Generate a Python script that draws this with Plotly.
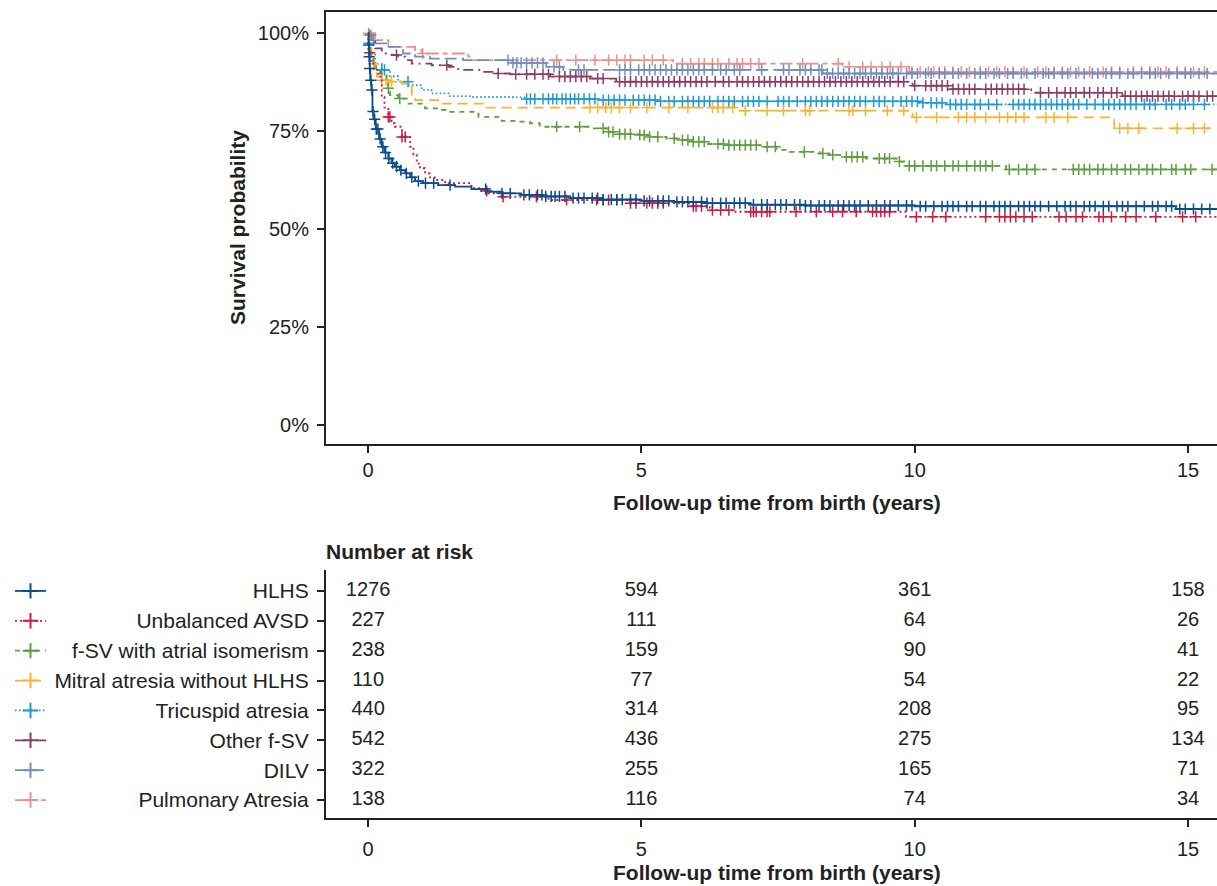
import numpy as np
import plotly.graph_objects as go

W, H = 1217, 886
FONT = "Liberation Sans, Arial, Helvetica, sans-serif"
INK = "#222222"


def px(x):
    return x / W


def py(y):
    return (H - y) / H


groups = ["HLHS", "Unbalanced AVSD", "f-SV with atrial isomerism", "Mitral atresia without HLHS",
          "Tricuspid atresia", "Other f-SV", "DILV", "Pulmonary Atresia"]
colors = ["#0B4C8A", "#D6163F", "#5E9E3D", "#F9B233", "#1B9AD6", "#8C3B63", "#6E8FC0", "#EE908A"]
dashes = ["solid", "2px,3px", "5px,5px", "10px,6px", "1.5px,2.5px", "10px,5px,2px,5px", "12px,5px", "13px,4px,5px,4px"]

# Kaplan-Meier step curves (time in years, survival probability)
hlhs_t = [0, 0.01, 0.02, 0.03, 0.04, 0.06, 0.08, 0.1, 0.14, 0.2, 0.25, 0.3, 0.37, 0.43, 0.49, 0.58, 0.68, 0.77,
          0.86, 1.0, 1.28, 1.59, 1.89, 2.19, 2.44, 2.8, 3.2, 3.7, 4.3, 5.0, 5.6, 6.2, 7.0, 8.0, 10.0, 14.78, 16]
hlhs_s = [1.0, 0.97, 0.94, 0.91, 0.88, 0.855, 0.80, 0.78, 0.755, 0.73, 0.71, 0.695, 0.68, 0.668, 0.659, 0.65,
          0.642, 0.632, 0.622, 0.617, 0.612, 0.608, 0.602, 0.595, 0.591, 0.587, 0.583, 0.579, 0.575, 0.572,
          0.569, 0.566, 0.562, 0.560, 0.558, 0.551, 0.551]
avsd_t = [0, 0.005, 0.05, 0.1, 0.19, 0.25, 0.3, 0.37, 0.43, 0.49, 0.62, 0.77, 0.83, 0.89, 0.95, 1.04, 1.13, 1.22,
          1.41, 1.89, 2.05, 2.2, 2.44, 3.3, 4.8, 5.9, 6.25, 6.67, 9.84, 16]
avsd_s = [1.0, 0.95, 0.93, 0.906, 0.889, 0.837, 0.81, 0.786, 0.77, 0.761, 0.735, 0.71, 0.69, 0.667, 0.655, 0.642,
          0.632, 0.625, 0.617, 0.604, 0.597, 0.591, 0.582, 0.574, 0.566, 0.558, 0.548, 0.544, 0.531, 0.531]
fsv_t = [0, 0.02, 0.05, 0.1, 0.15, 0.22, 0.34, 0.37, 0.4, 0.55, 0.74, 1.04, 1.35, 1.47, 2.02, 2.44, 2.7, 2.96,
         3.14, 4.11, 4.36, 4.6, 4.97, 5.15, 5.46, 5.64, 5.94, 6.19, 6.55, 7.22, 7.47, 7.71, 8.26, 8.44, 8.68,
         9.11, 9.72, 9.81, 11.67, 16]
fsv_s = [1.0, 0.96, 0.94, 0.92, 0.905, 0.897, 0.88, 0.859, 0.842, 0.833, 0.82, 0.808, 0.804, 0.799, 0.786, 0.776,
         0.774, 0.77, 0.761, 0.757, 0.748, 0.742, 0.74, 0.735, 0.731, 0.727, 0.723, 0.717, 0.714, 0.71, 0.702,
         0.697, 0.693, 0.689, 0.684, 0.68, 0.672, 0.661, 0.652, 0.652]
mitral_t = [0, 0.03, 0.06, 0.1, 0.13, 0.16, 0.25, 0.37, 0.62, 0.8, 0.86, 1.28, 2.11, 6.74, 9.96, 13.65, 16]
mitral_s = [1.0, 0.96, 0.94, 0.922, 0.906, 0.889, 0.88, 0.876, 0.871, 0.837, 0.829, 0.82, 0.81, 0.802, 0.785,
            0.757, 0.757]
tric_t = [0, 0.005, 0.04, 0.13, 0.25, 0.4, 0.55, 0.74, 0.98, 1.16, 1.47, 1.9, 2.65, 2.9, 4.18, 5.33, 10.09,
          10.57, 16]
tric_s = [1.0, 0.974, 0.948, 0.922, 0.906, 0.89, 0.876, 0.867, 0.855, 0.846, 0.839, 0.837, 0.836, 0.832, 0.829,
          0.826, 0.822, 0.818, 0.818]
other_t = [0, 0.04, 0.13, 0.25, 0.43, 0.55, 0.68, 0.8, 1.16, 1.47, 1.65, 2.08, 2.33, 2.6, 3.33, 4.06, 4.54,
           9.96, 10.63, 12.13, 13.8, 16]
other_s = [1.0, 0.978, 0.961, 0.948, 0.944, 0.94, 0.931, 0.922, 0.918, 0.914, 0.906, 0.901, 0.897, 0.895, 0.889,
           0.884, 0.876, 0.866, 0.857, 0.848, 0.839, 0.839]
dilv_t = [0, 0.005, 0.07, 0.13, 0.37, 0.64, 0.86, 1.13, 1.74, 2.64, 3.26, 3.57, 8.32, 16]
dilv_s = [1.0, 0.995, 0.982, 0.974, 0.965, 0.948, 0.94, 0.935, 0.931, 0.924, 0.914, 0.906, 0.897, 0.897]
pulm_t = [0, 0.13, 0.37, 0.86, 0.98, 1.83, 1.89, 5.58, 8.68, 9.9, 16]
pulm_s = [1.0, 0.982, 0.965, 0.957, 0.948, 0.94, 0.931, 0.922, 0.914, 0.901, 0.901]

# censoring times (years)
hlhs_c = [0.01, 0.02, 0.03, 0.05, 0.07, 0.09, 0.12, 0.15, 0.18, 0.22, 0.27, 0.32, 0.38, 0.45, 0.52, 0.6, 0.7, 0.8,
          0.92, 1.05, 1.2, 1.5, 2.15, 2.45, 2.6, 2.85, 2.95, 3.1, 3.18, 3.25, 3.35, 3.42, 3.5, 3.6, 3.75, 3.85,
          3.95, 4.1, 4.2, 4.3, 4.45, 4.55, 4.65, 4.8, 4.9, 5.05, 5.15, 5.3, 5.4, 5.5, 5.65, 5.75, 5.85, 5.95, 6.1,
          6.2, 6.3, 6.45, 6.55, 6.7, 6.8, 6.9, 7.05, 7.2, 7.3, 7.45, 7.55, 7.65, 7.8, 7.9, 8.0, 8.1, 8.25, 8.35,
          8.45, 8.6, 8.7, 8.8, 8.9, 9.0, 9.15, 9.3, 9.45, 9.55, 9.7, 9.85, 9.95, 10.1, 10.2, 10.35, 10.5, 10.6,
          10.7, 10.8, 10.95, 11.05, 11.2, 11.3, 11.45, 11.55, 11.65, 11.75, 11.9, 12.0, 12.1, 12.2, 12.3, 12.45,
          12.6, 12.75, 12.85, 12.95, 13.1, 13.2, 13.3, 13.45, 13.55, 13.7, 13.8, 13.9, 14.05, 14.2, 14.35, 14.45,
          14.6, 14.7, 14.85, 14.95, 15.1, 15.25, 15.4]
avsd_c = [0.03, 0.37, 0.4, 0.62, 0.68, 2.17, 2.47, 3.08, 3.63, 4.18, 4.3, 4.4, 4.55, 4.8, 4.9, 5.1, 5.2, 5.3, 5.4,
          5.95, 6.0, 6.1, 6.3, 6.45, 6.6, 7.0, 7.05, 7.1, 7.2, 7.3, 7.35, 7.83, 8.2, 8.5, 8.68, 8.93, 9.23, 9.3,
          9.38, 9.45, 9.54, 10.03, 10.33, 10.57, 11.3, 11.55, 11.65, 11.75, 11.85, 12.0, 12.15, 12.64, 12.77,
          12.95, 13.07, 13.37, 13.45, 13.6, 13.86, 14.05, 14.41, 14.9, 15.14]
fsv_c = [0.37, 0.58, 3.45, 3.87, 4.3, 4.4, 4.48, 4.6, 4.7, 4.8, 4.97, 5.05, 5.15, 5.3, 5.6, 5.75, 5.85, 5.95, 6.05,
         6.15, 6.4, 6.5, 6.6, 6.7, 6.8, 6.9, 7.0, 7.1, 7.3, 7.45, 7.98, 8.32, 8.5, 8.75, 8.85, 8.95, 9.05, 9.35,
         9.45, 9.54, 9.72, 9.9, 10.0, 10.15, 10.3, 10.4, 10.55, 10.7, 10.8, 10.95, 11.1, 11.2, 11.3, 11.42, 11.73,
         11.9, 12.05, 12.2, 12.9, 13.0, 13.1, 13.2, 13.35, 13.45, 13.6, 13.7, 13.85, 13.95, 14.1, 14.25, 14.35,
         14.5, 14.7, 14.78, 14.95, 15.05, 15.44]
mitral_c = [0.1, 0.25, 0.33, 0.43, 4.06, 4.2, 4.35, 4.45, 4.6, 4.8, 5.1, 5.5, 5.85, 6.3, 6.4, 6.5, 6.67, 6.9, 7.3,
            7.6, 8.0, 8.08, 8.8, 8.87, 9.1, 9.5, 9.8, 10.03, 10.4, 10.8, 10.95, 11.1, 11.3, 11.55, 11.7, 11.85,
            12.0, 12.4, 12.55, 12.8, 13.75, 13.9, 14.1, 14.8, 15.1, 15.3]
tric_c = [0.02, 0.25, 0.3, 0.73, 2.9, 2.97, 3.05, 3.2, 3.3, 3.38, 3.45, 3.55, 3.62, 3.7, 3.78, 3.85, 3.95, 4.05,
          4.15, 4.3, 4.4, 4.5, 4.6, 4.7, 4.85, 4.95, 5.05, 5.15, 5.25, 5.35, 5.5, 5.6, 5.75, 5.85, 5.95, 6.05,
          6.15, 6.25, 6.4, 6.5, 6.6, 6.7, 6.85, 6.95, 7.05, 7.15, 7.3, 7.5, 7.6, 7.7, 7.85, 8.0, 8.1, 8.2, 8.3,
          8.4, 8.5, 8.6, 8.7, 8.8, 8.9, 9.0, 9.1, 9.25, 9.35, 9.45, 9.6, 9.75, 9.85, 9.95, 10.05, 10.15, 10.3,
          10.4, 10.5, 10.65, 10.75, 10.85, 10.95, 11.1, 11.2, 11.35, 11.5, 11.8, 11.9, 12.0, 12.1, 12.2, 12.3,
          12.4, 12.5, 12.6, 12.7, 12.8, 12.9, 13.0, 13.15, 13.3, 13.45, 13.55, 13.65, 13.75, 13.85, 13.95, 14.05,
          14.2, 14.3, 14.4, 14.6, 14.7, 14.85, 14.95, 15.1, 15.3]
other_c = [0.52, 1.44, 2.38, 2.7, 2.9, 3.05, 3.2, 3.3, 3.5, 3.6, 3.7, 3.8, 3.9, 4.0, 4.2, 4.3, 4.6, 4.7, 4.8, 4.9,
           5.0, 5.1, 5.2, 5.3, 5.4, 5.5, 5.6, 5.7, 5.8, 5.9, 6.0, 6.1, 6.2, 6.35, 6.5, 6.6, 6.75, 6.85, 6.95, 7.05,
           7.15, 7.25, 7.35, 7.45, 7.55, 7.65, 7.75, 7.85, 7.95, 8.05, 8.15, 8.25, 8.35, 8.45, 8.55, 8.65, 8.75,
           8.85, 8.95, 9.05, 9.15, 9.25, 9.35, 9.45, 9.55, 9.7, 9.8, 10.0, 10.2, 10.3, 10.4, 10.5, 10.6, 10.7,
           10.8, 10.9, 11.0, 11.1, 11.3, 11.4, 11.5, 11.6, 11.7, 11.8, 11.9, 12.0, 12.3, 12.45, 12.6, 12.75,
           12.85, 12.95, 13.1, 13.2, 13.35, 13.45, 13.6, 13.7, 13.85, 13.95, 14.05, 14.15, 14.25, 14.35, 14.45,
           14.55, 14.65, 14.75, 14.9, 15.0, 15.1, 15.2, 15.35, 15.45]
dilv_c = [0.02, 0.05, 0.1, 2.56, 2.65, 2.72, 2.8, 2.9, 3.0, 3.1, 3.2, 3.4, 3.5, 3.85, 3.95, 4.6, 4.7, 4.8, 4.95,
          5.05, 5.15, 5.25, 5.35, 5.45, 5.55, 5.65, 5.75, 5.85, 5.95, 6.05, 6.15, 6.3, 6.45, 6.55, 6.7, 6.8, 7.2,
          7.6, 7.7, 7.9, 8.0, 8.1, 8.25, 8.3, 8.4, 8.5, 8.6, 8.7, 8.8, 8.9, 9.0, 9.1, 9.2, 9.3, 9.4, 9.5, 9.6,
          9.7, 9.85, 9.95, 10.05, 10.2, 10.3, 10.45, 10.55, 10.7, 10.8, 10.95, 11.1, 11.2, 11.3, 11.45, 11.55,
          11.7, 11.8, 11.95, 12.05, 12.2, 12.35, 12.45, 12.55, 12.7, 12.8, 12.95, 13.1, 13.25, 13.35, 13.5, 13.6,
          13.75, 13.9, 14.0, 14.15, 14.3, 14.4, 14.5, 14.65, 14.8, 14.95, 15.05, 15.2, 15.35]
pulm_c = [0.01, 1.0, 3.45, 3.8, 4.15, 4.4, 4.55, 4.7, 4.8, 5.05, 5.2, 5.4, 5.75, 5.9, 6.05, 6.15, 6.3, 6.4, 6.6,
          6.75, 6.85, 7.0, 7.15, 7.95, 8.6, 8.8, 9.05, 9.2, 9.4, 9.55, 9.75, 9.95, 10.1, 10.25, 10.35, 10.45,
          10.55, 10.7, 10.85, 11.0, 11.2, 11.35, 11.5, 11.65, 11.8, 12.0, 12.25, 12.4, 12.55, 12.7, 12.85, 13.0,
          13.2, 13.45, 13.6, 13.75, 14.0, 14.15, 14.3, 14.45, 14.6, 14.8, 14.95, 15.1, 15.3]

# numbers at risk
risk_times = [0, 5, 10, 15]
at_risk = [
    [1276, 594, 361, 158],
    [227, 111, 64, 26],
    [238, 159, 90, 41],
    [110, 77, 54, 22],
    [440, 314, 208, 95],
    [542, 436, 275, 134],
    [322, 255, 165, 71],
    [138, 116, 74, 34],
]

curves_t = [hlhs_t, avsd_t, fsv_t, mitral_t, tric_t, other_t, dilv_t, pulm_t]
curves_s = [hlhs_s, avsd_s, fsv_s, mitral_s, tric_s, other_s, dilv_s, pulm_s]
censors = [hlhs_c, avsd_c, fsv_c, mitral_c, tric_c, other_c, dilv_c, pulm_c]

fig = go.Figure()

for i in reversed(range(len(groups))):
    t = np.array(curves_t[i]); s = np.array(curves_s[i])
    fig.add_trace(go.Scatter(x=t, y=s, mode="lines", line=dict(color=colors[i], width=1.8, dash=dashes[i], shape="hv"),
                             xaxis="x", yaxis="y", showlegend=False, hoverinfo="skip"))
    c = np.sort(np.array(censors[i]))
    idx = np.searchsorted(t, c, side="right") - 1
    fig.add_trace(go.Scatter(x=c, y=s[idx], mode="markers",
                             marker=dict(symbol="cross-thin", size=8, line=dict(color=colors[i], width=1.5), color=colors[i]),
                             xaxis="x", yaxis="y", showlegend=False, hoverinfo="skip"))

# risk table numbers and key symbols
for i, g in enumerate(groups):
    fig.add_trace(go.Scatter(x=risk_times, y=[i] * len(risk_times), mode="text", text=[str(v) for v in at_risk[i]],
                             textfont=dict(family=FONT, size=20, color=INK), xaxis="x2", yaxis="y2",
                             showlegend=False, hoverinfo="skip"))
    fig.add_trace(go.Scatter(x=[0, 1], y=[i, i], mode="lines", line=dict(color=colors[i], width=1.8, dash=dashes[i]),
                             xaxis="x3", yaxis="y2", showlegend=False, hoverinfo="skip"))
    fig.add_trace(go.Scatter(x=[0.5], y=[i], mode="markers",
                             marker=dict(symbol="cross-thin", size=11, line=dict(color=colors[i], width=2), color=colors[i]),
                             xaxis="x3", yaxis="y2", showlegend=False, hoverinfo="skip"))

x_left = px(326)
xr = [-0.77, 15.53]
tickfont = dict(family=FONT, size=20, color=INK)
catfont = dict(family=FONT, size=21, color=INK)
titlefont = dict(family=FONT, size=21, color=INK)

fig.update_layout(
    width=W, height=H, margin=dict(l=0, r=0, t=0, b=0),
    paper_bgcolor="white", plot_bgcolor="white",
    font=dict(family=FONT, color=INK),
    xaxis=dict(domain=[x_left, 1], range=xr, tickvals=[0, 5, 10, 15], ticks="outside", ticklen=7, tickwidth=1.5,
               tickcolor=INK, showline=True, linecolor=INK, linewidth=2, mirror=True, showgrid=False, zeroline=False,
               tickfont=tickfont, anchor="y", ticklabelstandoff=0),
    yaxis=dict(domain=[py(444), py(12)], range=[-0.049, 1.054], tickvals=[0, 0.25, 0.5, 0.75, 1.0],
               ticktext=["0%", "25%", "50%", "75%", "100%"], ticks="outside", ticklen=7, tickwidth=1.5,
               tickcolor=INK, showline=True, linecolor=INK, linewidth=2, showgrid=False, zeroline=False,
               tickfont=tickfont, anchor="x", ticklabelstandoff=4),
    xaxis2=dict(domain=[x_left, 1], range=xr, tickvals=[0, 5, 10, 15], ticks="outside", ticklen=7, tickwidth=1.5,
                tickcolor=INK, showline=True, linecolor=INK, linewidth=2, showgrid=False, zeroline=False,
                tickfont=tickfont, anchor="y2", ticklabelstandoff=5),
    yaxis2=dict(domain=[py(818), py(570)], range=[7.6, -0.7], tickvals=list(range(len(groups))),
                ticktext=groups, ticks="outside", ticklen=7, tickwidth=1.5, tickcolor=INK, showline=True,
                linecolor=INK, linewidth=2, showgrid=False, zeroline=False, tickfont=catfont, anchor="x2",
                ticklabelstandoff=4),
    xaxis3=dict(domain=[px(15), px(46)], range=[0, 1], visible=False, anchor="y2"),
    annotations=[
        dict(text="<b>Follow-up time from birth (years)</b>", x=px(777), y=py(502), xref="paper", yref="paper",
             showarrow=False, xanchor="center", yanchor="middle", font=titlefont),
        dict(text="<b>Follow-up time from birth (years)</b>", x=px(777), y=py(872), xref="paper", yref="paper",
             showarrow=False, xanchor="center", yanchor="middle", font=titlefont),
        dict(text="<b>Survival probability</b>", x=px(238), y=py(228), xref="paper", yref="paper",
             showarrow=False, xanchor="center", yanchor="middle", textangle=-90, font=titlefont),
        dict(text="<b>Number at risk</b>", x=px(324), y=py(551), xref="paper", yref="paper",
             showarrow=False, xanchor="left", yanchor="middle", font=titlefont),
    ],
)

fig.write_html("out.html", config={"displayModeBar": False},
               post_script="document.body.style.margin='0';document.body.style.overflow='hidden';")
